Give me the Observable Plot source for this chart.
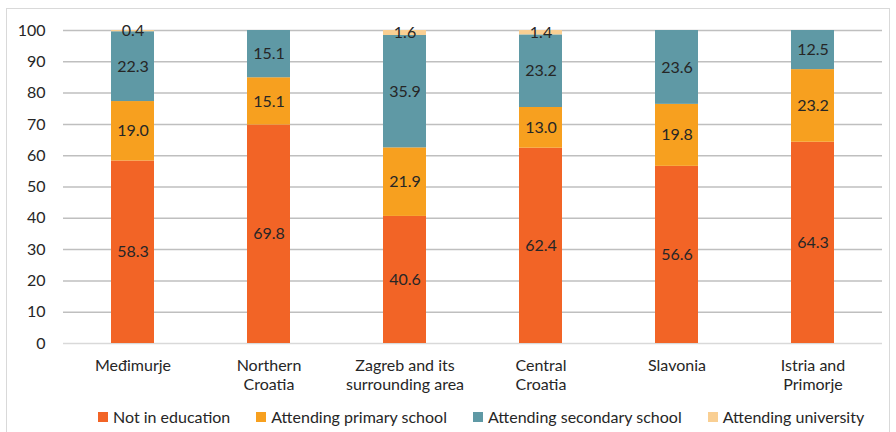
<!DOCTYPE html>
<html>
<head>
<meta charset="utf-8">
<script src="https://cdn.jsdelivr.net/npm/d3@7"></script>
<script src="https://cdn.jsdelivr.net/npm/@observablehq/plot@0.6"></script>
<style>
  html, body { margin: 0; padding: 0; background: #fff; }
  body { width: 896px; height: 432px; position: relative; overflow: hidden; font-family: Lato, "Open Sans", sans-serif; }
  #frame { position: absolute; left: 6px; top: 8px; width: 884px; height: 440px; border: 1px solid #d9d9d9; box-sizing: border-box; }
  #chart { position: absolute; left: 0; top: 0; }
  #legend { position: absolute; left: 98px; top: 407px; display: flex; gap: 26px; font-size: 16px; color: #262626; white-space: nowrap; }
  #legend .item { display: flex; align-items: center; gap: 5px; }
  #legend .sw { width: 10px; height: 10px; display: inline-block; }
</style>
</head>
<body>
<div id="frame"></div>
<div id="chart"></div>
<div id="legend"></div>
<script>
const regions = ["Međimurje", "Northern\nCroatia", "Zagreb and its\nsurrounding area", "Central\nCroatia", "Slavonia", "Istria and\nPrimorje"];
const seriesNames = ["Not in education", "Attending primary school", "Attending secondary school", "Attending university"];
const colors = ["#f26426", "#f7a01f", "#5f99a5", "#f9cf93"];
const notInEducation = [58.3, 69.8, 40.6, 62.4, 56.6, 64.3];
const primarySchool = [19.0, 15.1, 21.9, 13.0, 19.8, 23.2];
const secondarySchool = [22.3, 15.1, 35.9, 23.2, 23.6, 12.5];
const university = [0.4, 0, 1.6, 1.4, 0, 0];
const yTicks = [0, 10, 20, 30, 40, 50, 60, 70, 80, 90, 100];

const seriesValues = [notInEducation, primarySchool, secondarySchool, university];
const data = [];
regions.forEach((r, i) => {
  seriesNames.forEach((s, j) => {
    data.push({region: r, series: s, value: seriesValues[j][i]});
  });
});

const chart = Plot.plot({
  width: 896,
  height: 400,
  marginTop: 30,
  marginBottom: 57,
  marginLeft: 63,
  marginRight: 14,
  style: {fontFamily: "Lato, 'Open Sans', sans-serif", fontSize: "16px", color: "#262626", background: "transparent"},
  x: {domain: regions, paddingInner: 0.685, paddingOuter: 0.3425, label: null},
  y: {domain: [0, 100], label: null},
  color: {domain: seriesNames, range: colors},
  marks: [
    Plot.ruleY(yTicks, {y: d => d, stroke: d => d === 0 ? "#d9d9d9" : "#bfbfbf", strokeWidth: 1.5}),
    Plot.barY(data, Plot.stackY({x: "region", y: "value", fill: "series", z: "series"})),
    Plot.text(data.filter(d => d.value > 0), Plot.stackY({x: "region", y: "value", z: "series", text: d => d.value.toFixed(1), fill: "#262626", fontSize: 16})),
    Plot.axisY(yTicks, {tickSize: 0, tickPadding: 18, fontSize: 16, fill: "#262626", tickFormat: d => d}),
    Plot.axisX({tickSize: 0, tickPadding: 14, fontSize: 16, fill: "#262626", lineHeight: 1.19})
  ]
});
document.getElementById("chart").appendChild(chart);

const legend = document.getElementById("legend");
seriesNames.forEach((s, j) => {
  const item = document.createElement("div");
  item.className = "item";
  const sw = document.createElement("span");
  sw.className = "sw";
  sw.style.background = colors[j];
  const label = document.createElement("span");
  label.textContent = s;
  item.appendChild(sw);
  item.appendChild(label);
  legend.appendChild(item);
});
</script>
</body>
</html>
